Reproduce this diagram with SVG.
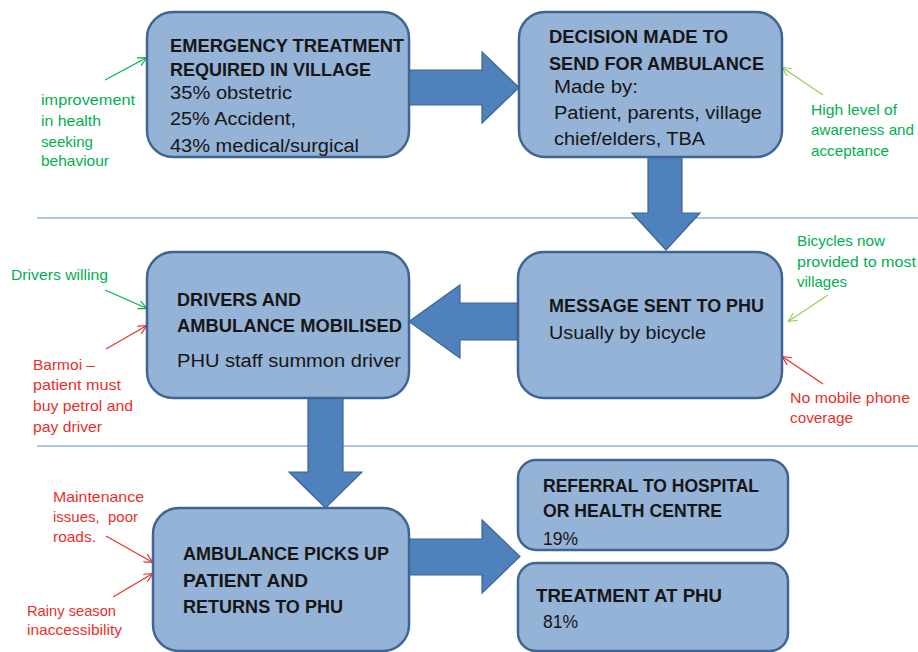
<svg xmlns="http://www.w3.org/2000/svg" width="918" height="652" viewBox="0 0 918 652">
<defs>
<style>
.box{fill:#95B3D7;stroke:#3F6594;stroke-width:2.5}
.arr{fill:#4F81BD;stroke:#3F6594;stroke-width:1.2}
.sep{stroke:#5B8BC9;stroke-width:1.2}
.t{font-family:"Liberation Sans",Arial,sans-serif;fill:#161616}
.h{font-size:19px;font-weight:bold}
.b{font-size:18px}
.a{font-family:"Liberation Sans",Arial,sans-serif;font-size:14.5px}
.g{fill:#00B050}
.r{fill:#E8302A}
.lg{stroke:#00B050;stroke-width:1.2;fill:none}
.ll{stroke:#92D050;stroke-width:1.2;fill:none}
.lr{stroke:#E8302A;stroke-width:1.2;fill:none}
</style>
<marker id="mg" viewBox="0 0 10 10" refX="9" refY="5" markerWidth="9" markerHeight="9" markerUnits="userSpaceOnUse" orient="auto"><path d="M0,0 L10,5 L0,10" fill="none" stroke="#00B050" stroke-width="1.3"/></marker>
<marker id="ml" viewBox="0 0 10 10" refX="9" refY="5" markerWidth="9" markerHeight="9" markerUnits="userSpaceOnUse" orient="auto"><path d="M0,0 L10,5 L0,10" fill="none" stroke="#92D050" stroke-width="1.3"/></marker>
<marker id="mr" viewBox="0 0 10 10" refX="9" refY="5" markerWidth="9" markerHeight="9" markerUnits="userSpaceOnUse" orient="auto"><path d="M0,0 L10,5 L0,10" fill="none" stroke="#E8302A" stroke-width="1.3"/></marker>
</defs>
<rect width="918" height="652" fill="#FFFFFF"/>
<line class="sep" x1="37" y1="218" x2="918" y2="218"/>
<line class="sep" x1="37" y1="446" x2="918" y2="446"/>
<g id="connectors">
<polygon class="arr" points="405,70 482,70 482,52 519,87.5 482,123 482,105 405,105"/>
<polygon class="arr" points="648,155 682,155 682,213 700,213 666,250 632,213 648,213"/>
<polygon class="arr" points="522,303 460,303 460,285 409,321.5 460,358 460,340 522,340"/>
<polygon class="arr" points="308,396 343,396 343,472 362,472 325.5,508 289,472 308,472"/>
<polygon class="arr" points="405,539 482,539 482,520 520,556.5 482,593 482,575 405,575"/>
<line class="lg" x1="105" y1="80" x2="146" y2="58" marker-end="url(#mg)"/>
<line class="ll" x1="823" y1="95" x2="783" y2="68" marker-end="url(#ml)"/>
<line class="lg" x1="105" y1="290" x2="146" y2="308" marker-end="url(#mg)"/>
<line class="lr" x1="106" y1="349" x2="146" y2="326" marker-end="url(#mr)"/>
<line class="ll" x1="828" y1="295" x2="789" y2="321" marker-end="url(#ml)"/>
<line class="lr" x1="823" y1="384" x2="783" y2="357" marker-end="url(#mr)"/>
<line class="lr" x1="106" y1="536" x2="152" y2="562" marker-end="url(#mr)"/>
<line class="lr" x1="113" y1="597" x2="152" y2="574" marker-end="url(#mr)"/>
</g>
<g id="emergency">
<rect class="box" x="147" y="12" width="262" height="145" rx="26"/>
<text class="t h" x="170" y="52" textLength="234" lengthAdjust="spacingAndGlyphs">EMERGENCY TREATMENT</text>
<text class="t h" x="170" y="76" textLength="201" lengthAdjust="spacingAndGlyphs">REQUIRED IN VILLAGE</text>
<text class="t b" x="170" y="99" textLength="122" lengthAdjust="spacingAndGlyphs">35% obstetric</text>
<text class="t b" x="170" y="125" textLength="126" lengthAdjust="spacingAndGlyphs">25% Accident,</text>
<text class="t b" x="170" y="152" textLength="189" lengthAdjust="spacingAndGlyphs">43% medical/surgical</text>
</g>
<g id="decision">
<rect class="box" x="519" y="12" width="263" height="145" rx="26"/>
<text class="t h" x="549" y="43" textLength="179" lengthAdjust="spacingAndGlyphs">DECISION MADE TO</text>
<text class="t h" x="549" y="70" textLength="215" lengthAdjust="spacingAndGlyphs">SEND FOR AMBULANCE</text>
<text class="t b" x="554" y="93" textLength="84" lengthAdjust="spacingAndGlyphs">Made by:</text>
<text class="t b" x="554" y="119" textLength="208" lengthAdjust="spacingAndGlyphs">Patient, parents, village</text>
<text class="t b" x="554" y="145" textLength="151" lengthAdjust="spacingAndGlyphs">chief/elders, TBA</text>
</g>
<g id="drivers">
<rect class="box" x="147" y="252" width="262" height="146" rx="26"/>
<text class="t h" x="177" y="306" textLength="124" lengthAdjust="spacingAndGlyphs">DRIVERS AND</text>
<text class="t h" x="177" y="332" textLength="225" lengthAdjust="spacingAndGlyphs">AMBULANCE MOBILISED</text>
<text class="t b" x="177" y="367" textLength="224" lengthAdjust="spacingAndGlyphs">PHU staff summon driver</text>
</g>
<g id="message">
<rect class="box" x="518" y="252" width="264" height="146" rx="26"/>
<text class="t h" x="549" y="312" textLength="215" lengthAdjust="spacingAndGlyphs">MESSAGE SENT TO PHU</text>
<text class="t b" x="549" y="339" textLength="157" lengthAdjust="spacingAndGlyphs">Usually by bicycle</text>
</g>
<g id="pickup">
<rect class="box" x="153" y="508" width="256" height="143" rx="26"/>
<text class="t h" x="183" y="560" textLength="206" lengthAdjust="spacingAndGlyphs">AMBULANCE PICKS UP</text>
<text class="t h" x="183" y="587" textLength="125" lengthAdjust="spacingAndGlyphs">PATIENT AND</text>
<text class="t h" x="183" y="613" textLength="160" lengthAdjust="spacingAndGlyphs">RETURNS TO PHU</text>
</g>
<g id="referral">
<rect class="box" x="518" y="460" width="270" height="90" rx="18"/>
<text class="t h" x="543" y="492" textLength="216" lengthAdjust="spacingAndGlyphs">REFERRAL TO HOSPITAL</text>
<text class="t h" x="543" y="517" textLength="179" lengthAdjust="spacingAndGlyphs">OR HEALTH CENTRE</text>
<text class="t b" x="543" y="545" textLength="35" lengthAdjust="spacingAndGlyphs">19%</text>
</g>
<g id="treatment">
<rect class="box" x="518" y="563" width="270" height="88" rx="18"/>
<text class="t h" x="536" y="602" textLength="186" lengthAdjust="spacingAndGlyphs">TREATMENT AT PHU</text>
<text class="t b" x="543" y="628" textLength="35" lengthAdjust="spacingAndGlyphs">81%</text>
</g>
<g id="notes">
<text class="a g" x="41" y="105" textLength="94" lengthAdjust="spacingAndGlyphs">improvement</text>
<text class="a g" x="41" y="126" textLength="60" lengthAdjust="spacingAndGlyphs">in health</text>
<text class="a g" x="41" y="147" textLength="52" lengthAdjust="spacingAndGlyphs">seeking</text>
<text class="a g" x="41" y="166" textLength="68" lengthAdjust="spacingAndGlyphs">behaviour</text>
<text class="a g" x="811" y="115" textLength="86" lengthAdjust="spacingAndGlyphs">High level of</text>
<text class="a g" x="811" y="135" textLength="103" lengthAdjust="spacingAndGlyphs">awareness and</text>
<text class="a g" x="811" y="156" textLength="78" lengthAdjust="spacingAndGlyphs">acceptance</text>
<text class="a g" x="11" y="280" textLength="97" lengthAdjust="spacingAndGlyphs">Drivers willing</text>
<text class="a r" x="33" y="370" textLength="62" lengthAdjust="spacingAndGlyphs">Barmoi –</text>
<text class="a r" x="33" y="390" textLength="88" lengthAdjust="spacingAndGlyphs">patient must</text>
<text class="a r" x="33" y="411" textLength="100" lengthAdjust="spacingAndGlyphs">buy petrol and</text>
<text class="a r" x="33" y="432" textLength="69" lengthAdjust="spacingAndGlyphs">pay driver</text>
<text class="a g" x="797" y="246" textLength="88" lengthAdjust="spacingAndGlyphs">Bicycles now</text>
<text class="a g" x="797" y="267" textLength="119" lengthAdjust="spacingAndGlyphs">provided to most</text>
<text class="a g" x="797" y="287" textLength="50" lengthAdjust="spacingAndGlyphs">villages</text>
<text class="a r" x="790" y="403" textLength="120" lengthAdjust="spacingAndGlyphs">No mobile phone</text>
<text class="a r" x="790" y="423" textLength="63" lengthAdjust="spacingAndGlyphs">coverage</text>
<text class="a r" x="53" y="502" textLength="91" lengthAdjust="spacingAndGlyphs">Maintenance</text>
<text class="a r" x="53" y="522" textLength="85" lengthAdjust="spacingAndGlyphs" xml:space="preserve">issues,  poor</text>
<text class="a r" x="53" y="542" textLength="43" lengthAdjust="spacingAndGlyphs">roads.</text>
<text class="a r" x="27" y="616" textLength="89" lengthAdjust="spacingAndGlyphs">Rainy season</text>
<text class="a r" x="27" y="635" textLength="95" lengthAdjust="spacingAndGlyphs">inaccessibility</text>
</g>
</svg>
